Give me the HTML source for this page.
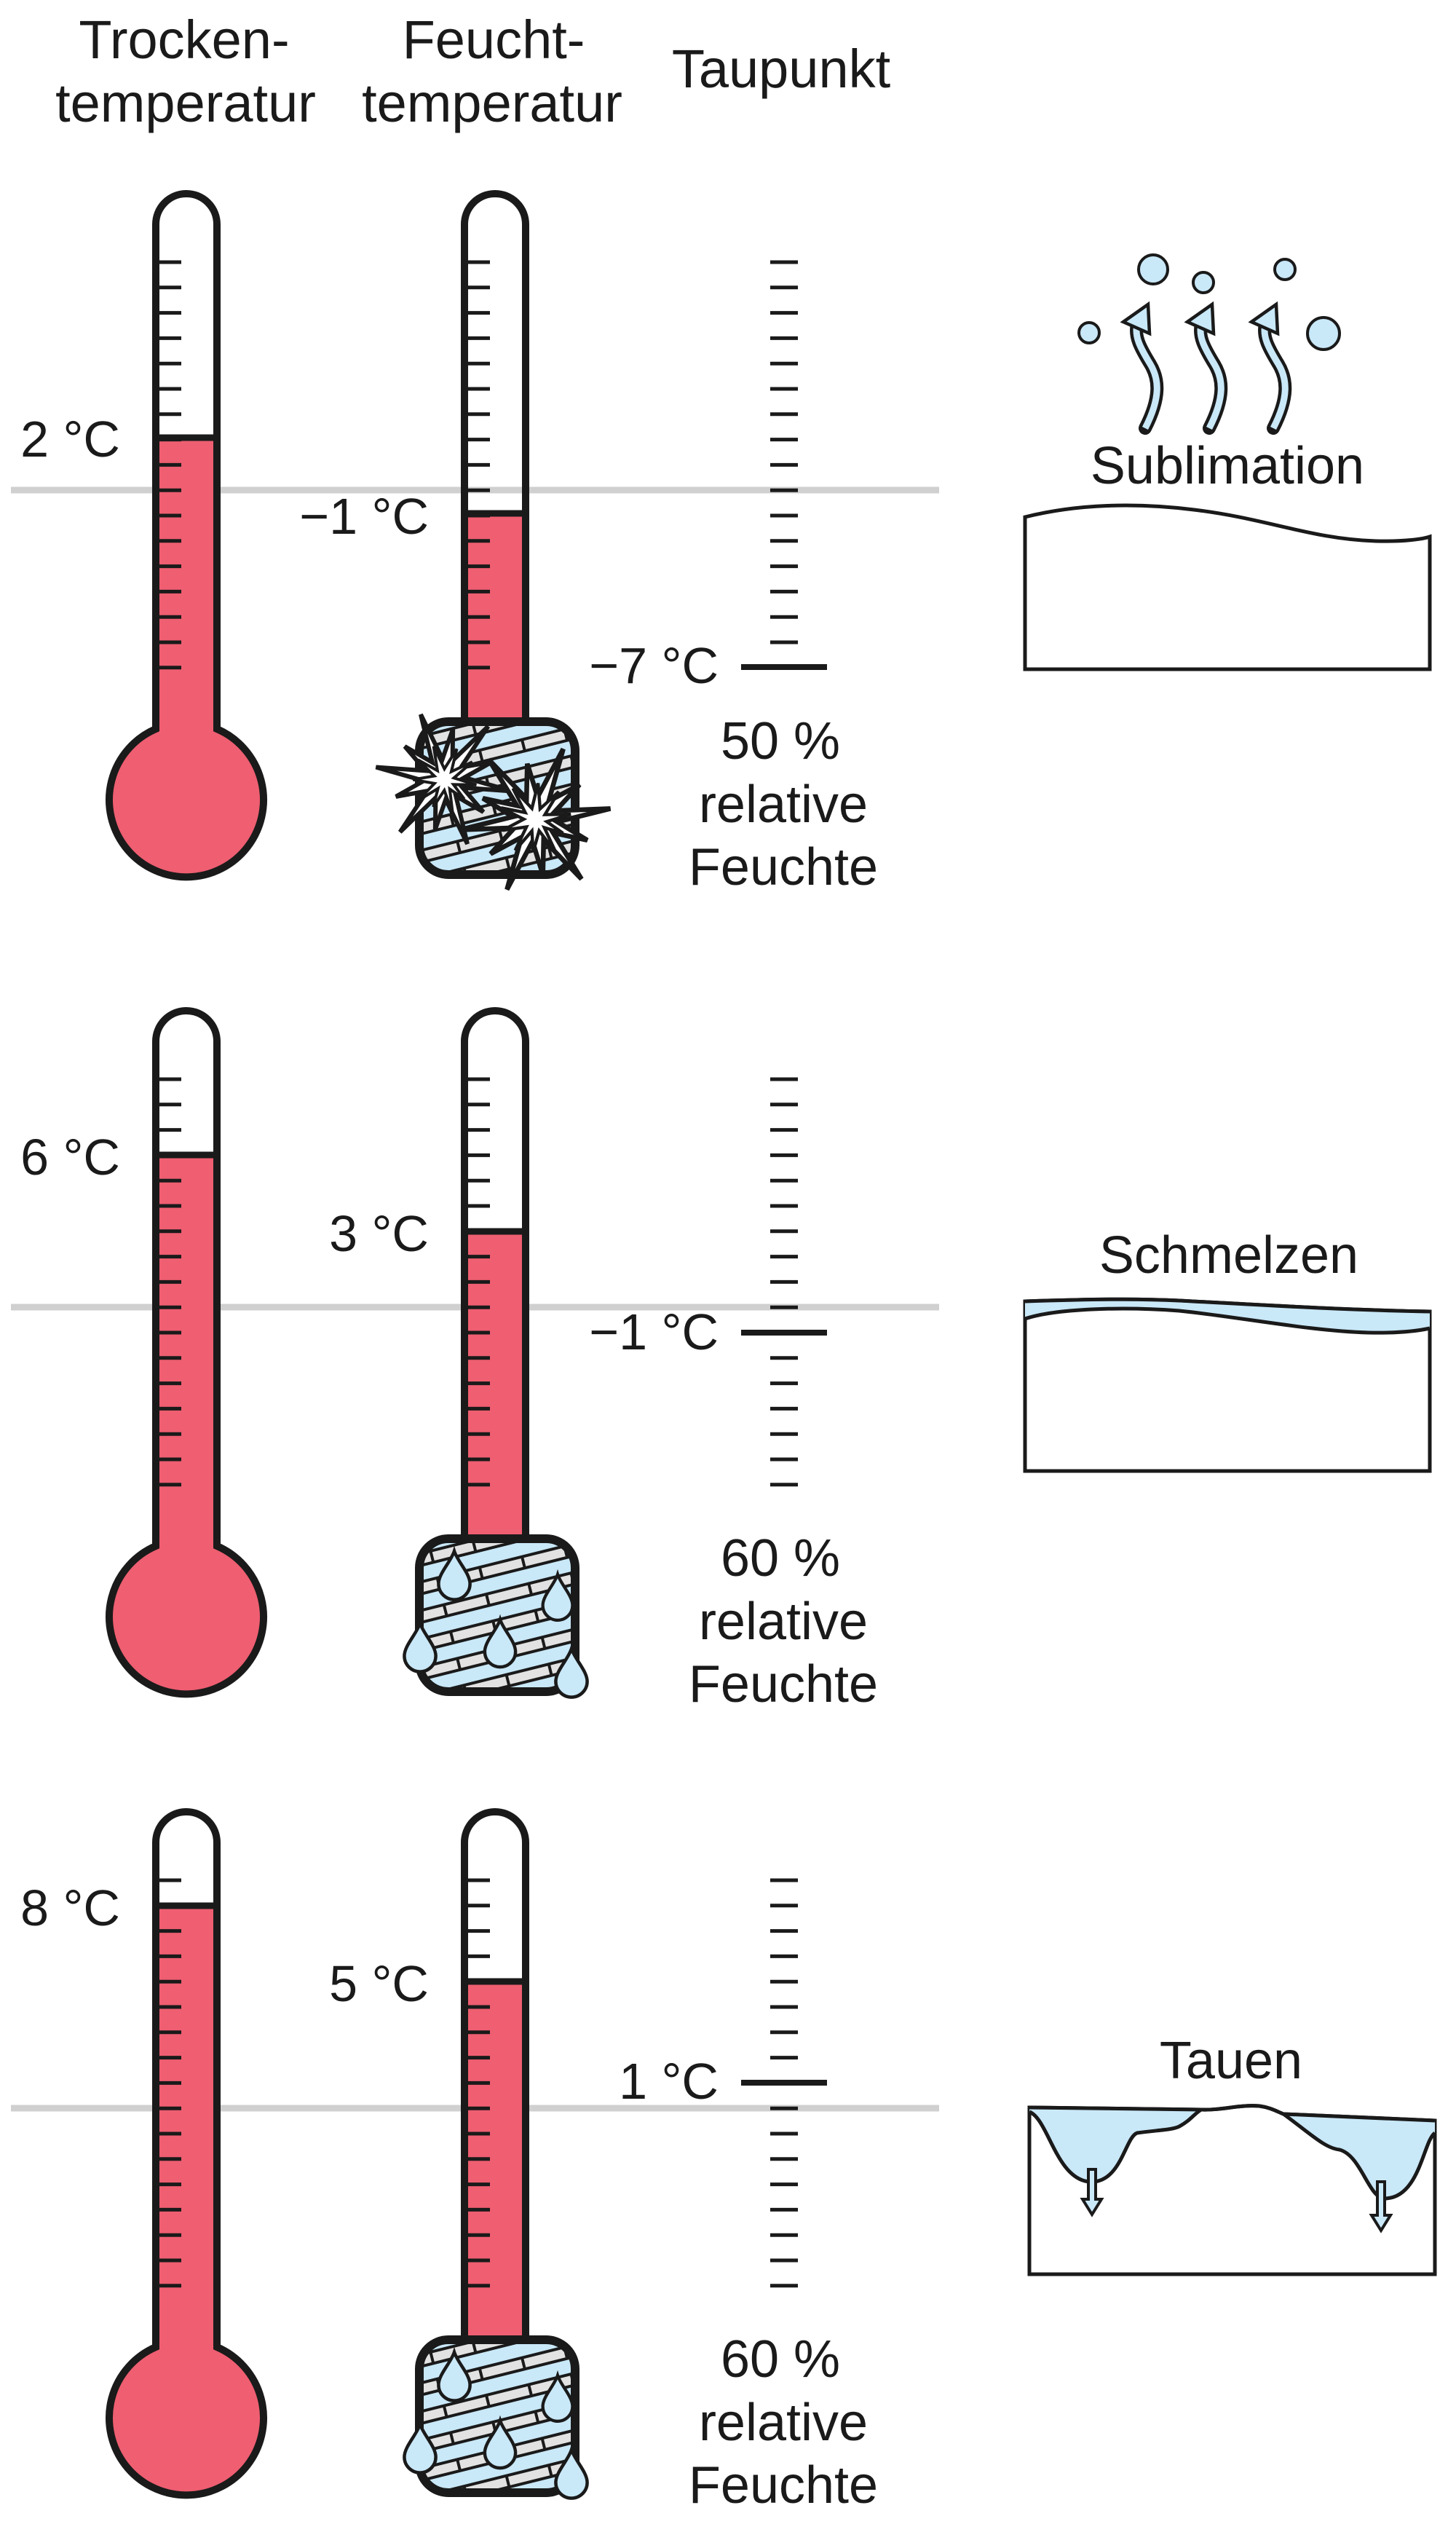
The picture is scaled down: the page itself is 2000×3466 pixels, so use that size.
<!DOCTYPE html>
<html><head><meta charset="utf-8"><style>
html,body{margin:0;padding:0;background:#fff}
svg{display:block}
text{font-family:"Liberation Sans",Arial,sans-serif;fill:#1a1a1a}
</style></head><body>
<svg width="2000" height="3466" viewBox="0 0 2000 3466" xmlns="http://www.w3.org/2000/svg">
<defs>
<pattern id="wick" patternUnits="userSpaceOnUse" width="60" height="38" patternTransform="rotate(-14)">
<rect width="60" height="38" fill="#C9E8F8"/>
<rect y="20" width="60" height="13" fill="#E2E2E2"/>
<rect y="17" width="60" height="4" fill="#1a1a1a"/>
<rect y="33" width="60" height="4" fill="#1a1a1a"/>
<rect x="28" y="20" width="4" height="13" fill="#1a1a1a"/>
</pattern>
<g id="star">
<polygon points="95,0 27,7 61,35 20,20 47,82 7,27 0,70 -7,27 -47,82 -20,20 -61,35 -27,7 -95,0 -27,-7 -61,-35 -20,-20 -47,-82 -7,-27 0,-70 7,-27 47,-82 20,-20 61,-35 27,-7" fill="#fff" stroke="#1a1a1a" stroke-width="6" stroke-linejoin="miter"/>
<polygon points="45,0 14,5 32,22 10,12 20,45 3,15 -8,40 -6,14 -30,35 -12,8 -42,8 -14,-2 -40,-20 -11,-10 -22,-42 -2,-14 10,-44 8,-12 34,-30 13,-4" fill="#fff" stroke="#1a1a1a" stroke-width="4"/>
</g>
<path id="drop" d="M0,0 C5,16 24,34 24,50 A24,24 0 0 1 -24,50 C-24,34 -5,16 0,0 Z" fill="#C9E8F8" stroke="#1a1a1a" stroke-width="5"/>
</defs>

<!-- Titles -->
<text x="253" y="80" font-size="74" text-anchor="middle">Trocken-</text>
<text x="255" y="167" font-size="74" text-anchor="middle">temperatur</text>
<text x="678" y="80" font-size="74" text-anchor="middle">Feucht-</text>
<text x="676" y="167" font-size="74" text-anchor="middle">temperatur</text>
<text x="1073" y="120" font-size="74" text-anchor="middle">Taupunkt</text>

<!-- ===== SECTION 1 ===== -->
<g>
<line x1="15" y1="673" x2="1290" y2="673" stroke="#D0D0D0" stroke-width="9"/>
<rect x="214" y="601" width="84" height="450" fill="#EF5E71"/>
<circle cx="256" cy="1098" r="106" fill="#EF5E71"/>
<line x1="233" y1="357.5" x2="233" y2="920" stroke="#1a1a1a" stroke-width="32" stroke-dasharray="5 29.8"/>
<line x1="214" y1="601" x2="298" y2="601" stroke="#1a1a1a" stroke-width="9"/>
<path d="M214,308 A42,42 0 0 1 298,308 L298,1001 A106,106 0 1 1 214,1001 Z" fill="none" stroke="#1a1a1a" stroke-width="10"/>
<text x="165" y="627" font-size="70" text-anchor="end">2 °C</text>
<rect x="638" y="705" width="84" height="290" fill="#EF5E71"/>
<line x1="658" y1="357.5" x2="658" y2="920" stroke="#1a1a1a" stroke-width="30" stroke-dasharray="5 29.8"/>
<line x1="638" y1="705" x2="722" y2="705" stroke="#1a1a1a" stroke-width="9"/>
<path d="M638,991 L638,308 A42,42 0 0 1 722,308 L722,991" fill="none" stroke="#1a1a1a" stroke-width="10"/>
<rect x="576" y="991" width="214" height="210" rx="40" fill="url(#wick)" stroke="#1a1a1a" stroke-width="12"/>
<use href="#star" transform="translate(610,1070) rotate(10)"/>
<use href="#star" transform="translate(735,1125) rotate(-8) scale(1.1)"/>
<text x="589" y="733" font-size="70" text-anchor="end">−1 °C</text>
<line x1="1077" y1="357.5" x2="1077" y2="886" stroke="#1a1a1a" stroke-width="38" stroke-dasharray="5 29.8"/>
<line x1="1018" y1="916" x2="1136" y2="916" stroke="#1a1a1a" stroke-width="8"/>
<text x="987" y="938" font-size="70" text-anchor="end">−7 °C</text>
<text x="1072" y="1042" font-size="72" text-anchor="middle">50 %</text>
<text x="1076" y="1129" font-size="72" text-anchor="middle">relative</text>
<text x="1076" y="1215" font-size="72" text-anchor="middle">Feuchte</text>
<circle cx="1584" cy="370" r="20" fill="#C9E8F8" stroke="#1a1a1a" stroke-width="4"/>
<circle cx="1653" cy="388" r="14" fill="#C9E8F8" stroke="#1a1a1a" stroke-width="4"/>
<circle cx="1765" cy="370" r="14" fill="#C9E8F8" stroke="#1a1a1a" stroke-width="4"/>
<circle cx="1496" cy="457" r="14" fill="#C9E8F8" stroke="#1a1a1a" stroke-width="4"/>
<circle cx="1818" cy="458" r="22" fill="#C9E8F8" stroke="#1a1a1a" stroke-width="4"/>
<g id="arr">
<path d="M1573,588 C1595,545 1592,520 1580,500 C1566,477 1558,462 1562,445" fill="none" stroke="#1a1a1a" stroke-width="18" stroke-linecap="round"/>
<path d="M1573,588 C1595,545 1592,520 1580,500 C1566,477 1558,462 1562,445" fill="none" stroke="#C9E8F8" stroke-width="9" stroke-linecap="butt"/>
<polygon points="1543,442 1577,418 1579,458" fill="#C9E8F8" stroke="#1a1a1a" stroke-width="4.5" stroke-linejoin="miter"/>
</g>
<use href="#arr" transform="translate(88,0)"/>
<use href="#arr" transform="translate(176,0)"/>
<text x="1686" y="664" font-size="72" text-anchor="middle">Sublimation</text>
<path d="M1408,710 C1480,692 1560,690 1640,700 C1740,712 1800,740 1890,743 C1930,744 1955,740 1964,737 L1964,919 L1408,919 Z" fill="#fff" stroke="#1a1a1a" stroke-width="5"/>
</g>

<!-- ===== SECTION 2 ===== -->
<g transform="translate(0,1122)">
<line x1="15" y1="673" x2="1290" y2="673" stroke="#D0D0D0" stroke-width="9"/>
<rect x="214" y="464" width="84" height="587" fill="#EF5E71"/>
<circle cx="256" cy="1098" r="106" fill="#EF5E71"/>
<line x1="233" y1="357.5" x2="233" y2="920" stroke="#1a1a1a" stroke-width="32" stroke-dasharray="5 29.8"/>
<line x1="214" y1="464" x2="298" y2="464" stroke="#1a1a1a" stroke-width="9"/>
<path d="M214,308 A42,42 0 0 1 298,308 L298,1001 A106,106 0 1 1 214,1001 Z" fill="none" stroke="#1a1a1a" stroke-width="10"/>
<text x="165" y="491" font-size="70" text-anchor="end">6 °C</text>
<rect x="638" y="569" width="84" height="426" fill="#EF5E71"/>
<line x1="658" y1="357.5" x2="658" y2="920" stroke="#1a1a1a" stroke-width="30" stroke-dasharray="5 29.8"/>
<line x1="638" y1="569" x2="722" y2="569" stroke="#1a1a1a" stroke-width="9"/>
<path d="M638,991 L638,308 A42,42 0 0 1 722,308 L722,991" fill="none" stroke="#1a1a1a" stroke-width="10"/>
<rect x="576" y="991" width="214" height="210" rx="40" fill="url(#wick)" stroke="#1a1a1a" stroke-width="12"/>
<use href="#drop" transform="translate(624,1008) scale(0.9)"/>
<use href="#drop" transform="translate(766,1040) scale(0.85)"/>
<use href="#drop" transform="translate(577,1107) scale(0.9)"/>
<use href="#drop" transform="translate(687,1102) scale(0.88)"/>
<use href="#drop" transform="translate(785,1142) scale(0.9)"/>
<text x="589" y="596" font-size="70" text-anchor="end">3 °C</text>
<line x1="1077" y1="357.5" x2="1077" y2="920" stroke="#1a1a1a" stroke-width="38" stroke-dasharray="5 29.8"/>
<line x1="1018" y1="708" x2="1136" y2="708" stroke="#1a1a1a" stroke-width="8"/>
<text x="987" y="731" font-size="70" text-anchor="end">−1 °C</text>
<text x="1072" y="1042" font-size="72" text-anchor="middle">60 %</text>
<text x="1076" y="1129" font-size="72" text-anchor="middle">relative</text>
<text x="1076" y="1215" font-size="72" text-anchor="middle">Feuchte</text>
<text x="1688" y="626" font-size="72" text-anchor="middle">Schmelzen</text>
<path d="M1408,665 C1500,662 1560,661 1620,664 C1750,671 1850,677 1964,679 L1964,898 L1408,898 Z" fill="#fff" stroke="#1a1a1a" stroke-width="5"/>
<path d="M1408,665 C1500,662 1560,661 1620,664 C1750,671 1850,677 1964,679 L1964,702 C1955,704 1930,709 1880,708 C1800,706 1700,686 1620,678 C1540,672 1450,675 1408,689 Z" fill="#C9E8F8"/>
<path d="M1408,689 C1450,675 1540,672 1620,678 C1700,686 1800,706 1880,708 C1930,709 1955,704 1964,702" fill="none" stroke="#1a1a1a" stroke-width="5"/>
<path d="M1408,665 C1500,662 1560,661 1620,664 C1750,671 1850,677 1964,679" fill="none" stroke="#1a1a1a" stroke-width="5"/>
</g>

<!-- ===== SECTION 3 ===== -->
<g transform="translate(0,2222)">
<line x1="15" y1="673" x2="1290" y2="673" stroke="#D0D0D0" stroke-width="9"/>
<rect x="214" y="395" width="84" height="656" fill="#EF5E71"/>
<circle cx="256" cy="1098" r="106" fill="#EF5E71"/>
<line x1="233" y1="357.5" x2="233" y2="920" stroke="#1a1a1a" stroke-width="32" stroke-dasharray="5 29.8"/>
<line x1="214" y1="395" x2="298" y2="395" stroke="#1a1a1a" stroke-width="9"/>
<path d="M214,308 A42,42 0 0 1 298,308 L298,1001 A106,106 0 1 1 214,1001 Z" fill="none" stroke="#1a1a1a" stroke-width="10"/>
<text x="165" y="422" font-size="70" text-anchor="end">8 °C</text>
<rect x="638" y="499" width="84" height="496" fill="#EF5E71"/>
<line x1="658" y1="357.5" x2="658" y2="920" stroke="#1a1a1a" stroke-width="30" stroke-dasharray="5 29.8"/>
<line x1="638" y1="499" x2="722" y2="499" stroke="#1a1a1a" stroke-width="9"/>
<path d="M638,991 L638,308 A42,42 0 0 1 722,308 L722,991" fill="none" stroke="#1a1a1a" stroke-width="10"/>
<rect x="576" y="991" width="214" height="210" rx="40" fill="url(#wick)" stroke="#1a1a1a" stroke-width="12"/>
<use href="#drop" transform="translate(624,1008) scale(0.9)"/>
<use href="#drop" transform="translate(766,1040) scale(0.85)"/>
<use href="#drop" transform="translate(577,1107) scale(0.9)"/>
<use href="#drop" transform="translate(687,1102) scale(0.88)"/>
<use href="#drop" transform="translate(785,1142) scale(0.9)"/>
<text x="589" y="526" font-size="70" text-anchor="end">5 °C</text>
<line x1="1077" y1="357.5" x2="1077" y2="920" stroke="#1a1a1a" stroke-width="38" stroke-dasharray="5 29.8"/>
<line x1="1018" y1="638" x2="1136" y2="638" stroke="#1a1a1a" stroke-width="8"/>
<text x="987" y="660" font-size="70" text-anchor="end">1 °C</text>
<text x="1072" y="1042" font-size="72" text-anchor="middle">60 %</text>
<text x="1076" y="1129" font-size="72" text-anchor="middle">relative</text>
<text x="1076" y="1215" font-size="72" text-anchor="middle">Feuchte</text>
<text x="1691" y="632" font-size="72" text-anchor="middle">Tauen</text>
<path d="M1414,672 L1650,675 C1680,676 1700,668 1730,670 C1745,672 1755,678 1763,681 L1971,690 L1971,901 L1414,901 Z" fill="#fff" stroke="#1a1a1a" stroke-width="5"/>
<path d="M1414,672 L1650,675 C1640,681 1635,690 1620,698 C1610,703 1590,703 1562,707 C1545,713 1540,778 1495,774 C1450,768 1440,688 1414,678 Z" fill="#C9E8F8"/>
<path d="M1763,681 L1971,690 L1971,707 C1955,718 1950,797 1902,797 C1880,797 1870,738 1840,730 C1820,728 1800,708 1763,681 Z" fill="#C9E8F8"/>
<path d="M1414,678 C1440,688 1450,768 1495,774 C1540,778 1545,713 1562,707 C1590,703 1610,703 1620,698 C1635,690 1640,681 1650,675" fill="none" stroke="#1a1a1a" stroke-width="5"/>
<path d="M1763,681 C1800,708 1820,728 1840,730 C1870,738 1880,797 1902,797 C1950,797 1955,718 1971,707" fill="none" stroke="#1a1a1a" stroke-width="5"/>
<path d="M1414,672 L1650,675 C1680,676 1700,668 1730,670 C1745,672 1755,678 1763,681 L1971,690" fill="none" stroke="#1a1a1a" stroke-width="5"/>
<polygon points="1495,757 1505,757 1505,798 1513,798 1500,819 1487,798 1495,798" fill="#C9E8F8" stroke="#1a1a1a" stroke-width="4"/>
<polygon points="1892,774 1902,774 1902,820 1910,820 1897,841 1884,820 1892,820" fill="#C9E8F8" stroke="#1a1a1a" stroke-width="4"/>
</g>
</svg>
</body></html>
